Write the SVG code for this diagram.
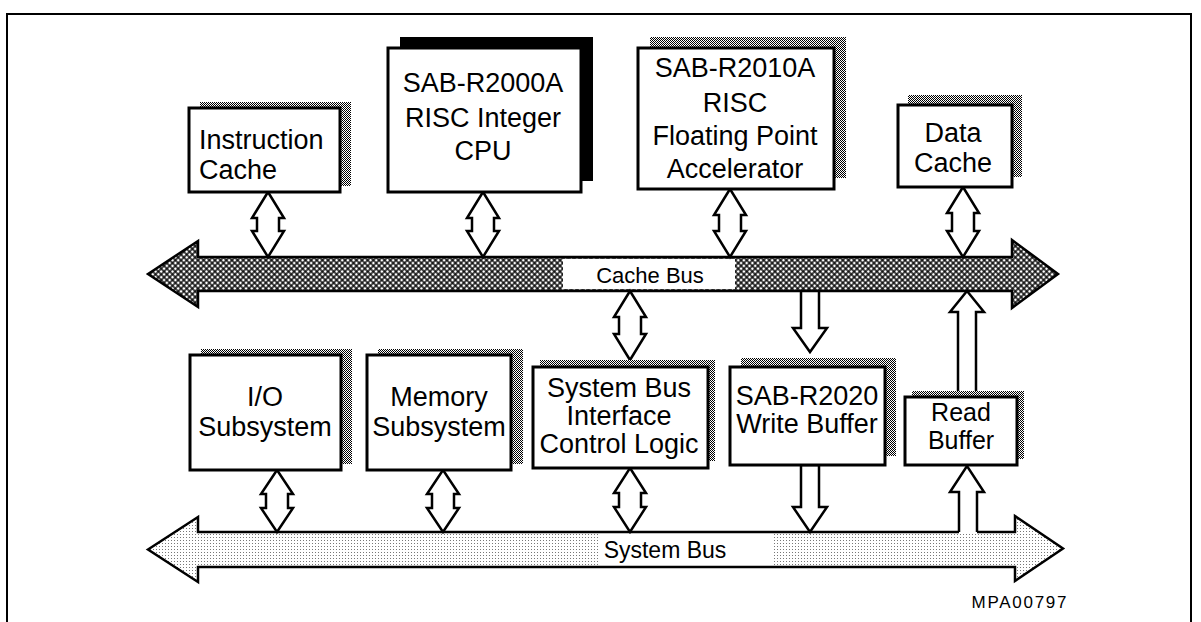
<svg xmlns="http://www.w3.org/2000/svg" width="1201" height="622" viewBox="0 0 1201 622">
<style>
  .box { fill: #fff; stroke: #000; stroke-width: 3; }
  .shadow { fill: url(#stip); stroke: none; }
  .lbl { font-family: "Liberation Sans", Arial, sans-serif; font-size: 27px; fill: #000; text-anchor: middle; }
  .bus { stroke: #000; stroke-width: 2.5; stroke-linejoin: miter; }
  .conn { fill: #fff; stroke: #000; stroke-width: 2.5; stroke-linejoin: miter; }
  .buslbl { font-family: "Liberation Sans", Arial, sans-serif; fill: #000; text-anchor: middle; }
</style>
<defs>
  <pattern id="stip" width="2" height="2" patternUnits="userSpaceOnUse">
    <rect width="2" height="2" fill="#fff"/>
    <rect width="1" height="1" fill="#000"/>
    <rect x="1" y="1" width="1" height="1" fill="#000"/>
  </pattern>
  <pattern id="hatch" width="4" height="4" patternUnits="userSpaceOnUse" patternTransform="rotate(45)">
    <rect width="4" height="4" fill="#000"/>
    <rect x="0.7" y="0.7" width="2.6" height="2.6" fill="#fff"/>
  </pattern>
  <pattern id="light" width="3" height="3" patternUnits="userSpaceOnUse">
    <rect width="3" height="3" fill="#fff"/>
    <rect width="1" height="1" fill="#777"/>
  </pattern>
</defs>
<rect width="1201" height="622" fill="#fff"/>
<path d="M7,622 L7,14 L1191,14 L1191,622" fill="none" stroke="#000" stroke-width="2"/>

<g id="cache-bus">
  <path class="bus" fill="url(#hatch)" d="M148,274 L198,241 L198,257 L1012,257 L1012,240 L1058,274 L1012,308 L1012,291 L198,291 L198,307 Z"/>
  <rect x="563" y="259" width="172" height="30" fill="#fff"/>
  <text class="buslbl" x="650" y="283" font-size="22">Cache Bus</text>
</g>
<g id="system-bus">
  <path class="bus" fill="url(#light)" d="M148,549.5 L198,517 L198,532 L1015,532 L1015,516 L1063,548.5 L1015,581 L1015,567 L198,567 L198,582 Z"/>
  <rect x="598" y="534" width="176" height="31" fill="#fff"/>
  <text class="buslbl" x="665" y="558" font-size="23">System Bus</text>
</g>

<g id="connectors">
  <path class="conn" d="M268,192 L284,218 L279,218 L279,231 L284,231 L268,257 L252,231 L257,231 L257,218 L252,218 Z"/>
  <path class="conn" d="M483,192 L499,218 L494,218 L494,231 L499,231 L483,257 L467,231 L472,231 L472,218 L467,218 Z"/>
  <path class="conn" d="M730,189 L746,215 L741,215 L741,231 L746,231 L730,257 L714,231 L719,231 L719,215 L714,215 Z"/>
  <path class="conn" d="M963,187 L979,213 L974,213 L974,231 L979,231 L963,257 L947,231 L952,231 L952,213 L947,213 Z"/>
  <path class="conn" d="M630,291 L646,317 L641,317 L641,334 L646,334 L630,360 L614,334 L619,334 L619,317 L614,317 Z"/>
  <path class="conn" d="M277,470 L293,494 L288,494 L288,508 L293,508 L277,532 L261,508 L266,508 L266,494 L261,494 Z"/>
  <path class="conn" d="M443,470 L459,494 L454,494 L454,508 L459,508 L443,532 L427,508 L432,508 L432,494 L427,494 Z"/>
  <path class="conn" d="M630,468 L646,493 L641,493 L641,507 L646,507 L630,532 L614,507 L619,507 L619,493 L614,493 Z"/>
  <path class="conn" d="M801,291 L819,291 L819,328 L827,328 L810,352 L793,328 L801,328 Z"/>
  <path class="conn" d="M801,465 L819,465 L819,507 L827,507 L810,532 L793,507 L801,507 Z"/>
  <path class="conn" d="M967,291 L984,312 L976,312 L976,395 L958,395 L958,312 L950,312 Z"/>
  <path fill="#fff" stroke="none" d="M967,466 L984,492 L977,492 L977,534 L959,534 L959,492 L950,492 Z"/>
  <path fill="none" stroke="#000" stroke-width="2.5" d="M959,532 L959,492 L950,492 L967,466 L984,492 L977,492 L977,532"/>
</g>

<g id="instruction-cache">
  <rect class="shadow" x="200" y="102" width="151" height="84"/>
  <rect class="box" x="189" y="108" width="151" height="84"/>
  <text class="lbl" x="199" y="149" style="text-anchor:start">Instruction</text>
  <text class="lbl" x="199" y="179" style="text-anchor:start">Cache</text>
</g>
<g id="cpu">
  <rect x="400" y="37" width="193" height="144" fill="#000"/>
  <rect class="box" x="388" y="48" width="193" height="144"/>
  <text class="lbl" x="483" y="92">SAB-R2000A</text>
  <text class="lbl" x="483" y="127">RISC Integer</text>
  <text class="lbl" x="483" y="160">CPU</text>
</g>
<g id="fpa">
  <rect class="shadow" x="650" y="37" width="196" height="141"/>
  <rect class="box" x="638" y="48" width="196" height="141"/>
  <text class="lbl" x="735" y="77">SAB-R2010A</text>
  <text class="lbl" x="735" y="112">RISC</text>
  <text class="lbl" x="735" y="145">Floating Point</text>
  <text class="lbl" x="735" y="178">Accelerator</text>
</g>
<g id="data-cache">
  <rect class="shadow" x="908" y="95" width="114" height="82"/>
  <rect class="box" x="898" y="105" width="114" height="82"/>
  <text class="lbl" x="953" y="142">Data</text>
  <text class="lbl" x="953" y="172">Cache</text>
</g>
<g id="io-subsystem">
  <rect class="shadow" x="201" y="349" width="151" height="115"/>
  <rect class="box" x="190" y="355" width="151" height="115"/>
  <text class="lbl" x="265" y="406">I/O</text>
  <text class="lbl" x="265" y="436">Subsystem</text>
</g>
<g id="memory-subsystem">
  <rect class="shadow" x="378" y="349" width="145" height="115"/>
  <rect class="box" x="367" y="355" width="144" height="115"/>
  <text class="lbl" x="439" y="406">Memory</text>
  <text class="lbl" x="439" y="436">Subsystem</text>
</g>
<g id="system-bus-interface">
  <rect class="shadow" x="540" y="360" width="175" height="101"/>
  <rect class="box" x="533" y="367" width="175" height="101"/>
  <text class="lbl" x="619" y="397">System Bus</text>
  <text class="lbl" x="619" y="425">Interface</text>
  <text class="lbl" x="619" y="453">Control Logic</text>
</g>
<g id="write-buffer">
  <rect class="shadow" x="741" y="358" width="155" height="98"/>
  <rect class="box" x="730" y="367" width="155" height="98"/>
  <text class="lbl" x="807" y="405">SAB-R2020</text>
  <text class="lbl" x="807" y="433">Write Buffer</text>
</g>
<g id="read-buffer">
  <rect class="shadow" x="912" y="391" width="112" height="68"/>
  <rect class="box" x="905" y="397" width="112" height="68"/>
  <text class="lbl" x="961" y="421" style="font-size:25px">Read</text>
  <text class="lbl" x="961" y="449" style="font-size:25px">Buffer</text>
</g>
<text x="1019" y="608" font-family="Liberation Sans, Arial, sans-serif" font-size="17" text-anchor="middle" textLength="95">MPA00797</text>
</svg>
